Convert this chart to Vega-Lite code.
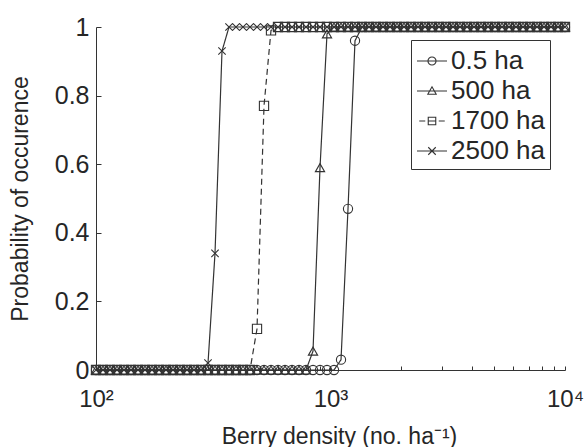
{
"$schema": "https://vega.github.io/schema/vega-lite/v6.json",
"width": 469, "height": 343,
"autosize": {"type": "none"},
"padding": {"left": 96, "top": 27, "right": 19, "bottom": 77},
"background": "white",
"config": {"view": {"stroke": null}, "font": "Liberation Sans",
 "axis": {"grid": false, "domainColor": "#333", "tickColor": "#333", "labelColor": "#262626", "titleColor": "#262626", "labelFont": "Liberation Sans", "titleFont": "Liberation Sans", "titleFontWeight": "normal", "domainWidth": 1, "tickWidth": 1}},
"data": {"values": [
{"s":"0.5 ha","x":100,"p":0},{"s":"0.5 ha","x":107.12,"p":0},{"s":"0.5 ha","x":114.74,"p":0},{"s":"0.5 ha","x":122.9,"p":0},{"s":"0.5 ha","x":131.65,"p":0},{"s":"0.5 ha","x":141.02,"p":0},{"s":"0.5 ha","x":151.05,"p":0},{"s":"0.5 ha","x":161.8,"p":0},{"s":"0.5 ha","x":173.31,"p":0},{"s":"0.5 ha","x":185.64,"p":0},
{"s":"0.5 ha","x":198.85,"p":0},{"s":"0.5 ha","x":213,"p":0},{"s":"0.5 ha","x":228.15,"p":0},{"s":"0.5 ha","x":244.39,"p":0},{"s":"0.5 ha","x":261.78,"p":0},{"s":"0.5 ha","x":280.41,"p":0},{"s":"0.5 ha","x":300.36,"p":0},{"s":"0.5 ha","x":321.73,"p":0},{"s":"0.5 ha","x":344.62,"p":0},{"s":"0.5 ha","x":369.14,"p":0},
{"s":"0.5 ha","x":395.41,"p":0},{"s":"0.5 ha","x":423.54,"p":0},{"s":"0.5 ha","x":453.68,"p":0},{"s":"0.5 ha","x":485.96,"p":0},{"s":"0.5 ha","x":520.54,"p":0},{"s":"0.5 ha","x":557.58,"p":0},{"s":"0.5 ha","x":597.26,"p":0},{"s":"0.5 ha","x":639.75,"p":0},{"s":"0.5 ha","x":685.27,"p":0},{"s":"0.5 ha","x":734.03,"p":0},
{"s":"0.5 ha","x":786.26,"p":0},{"s":"0.5 ha","x":842.2,"p":0},{"s":"0.5 ha","x":902.13,"p":0},{"s":"0.5 ha","x":966.32,"p":0},{"s":"0.5 ha","x":1035.1,"p":0},{"s":"0.5 ha","x":1108.7,"p":0.03},{"s":"0.5 ha","x":1187.6,"p":0.47},{"s":"0.5 ha","x":1272.1,"p":0.96},{"s":"0.5 ha","x":1362.6,"p":1},{"s":"0.5 ha","x":1459.6,"p":1},
{"s":"0.5 ha","x":1563.4,"p":1},{"s":"0.5 ha","x":1674.7,"p":1},{"s":"0.5 ha","x":1793.9,"p":1},{"s":"0.5 ha","x":1921.5,"p":1},{"s":"0.5 ha","x":2058.2,"p":1},{"s":"0.5 ha","x":2204.7,"p":1},{"s":"0.5 ha","x":2361.6,"p":1},{"s":"0.5 ha","x":2529.6,"p":1},{"s":"0.5 ha","x":2709.6,"p":1},{"s":"0.5 ha","x":2902.4,"p":1},
{"s":"0.5 ha","x":3109,"p":1},{"s":"0.5 ha","x":3330.2,"p":1},{"s":"0.5 ha","x":3567.2,"p":1},{"s":"0.5 ha","x":3821,"p":1},{"s":"0.5 ha","x":4092.9,"p":1},{"s":"0.5 ha","x":4384.1,"p":1},{"s":"0.5 ha","x":4696.1,"p":1},{"s":"0.5 ha","x":5030.2,"p":1},{"s":"0.5 ha","x":5388.1,"p":1},{"s":"0.5 ha","x":5771.5,"p":1},
{"s":"0.5 ha","x":6182.2,"p":1},{"s":"0.5 ha","x":6622.1,"p":1},{"s":"0.5 ha","x":7093.3,"p":1},{"s":"0.5 ha","x":7598,"p":1},{"s":"0.5 ha","x":8138.6,"p":1},{"s":"0.5 ha","x":8717.7,"p":1},{"s":"0.5 ha","x":9338,"p":1},{"s":"0.5 ha","x":10000,"p":1},

{"s":"500 ha","x":100,"p":0},{"s":"500 ha","x":107.12,"p":0},{"s":"500 ha","x":114.74,"p":0},{"s":"500 ha","x":122.9,"p":0},{"s":"500 ha","x":131.65,"p":0},{"s":"500 ha","x":141.02,"p":0},{"s":"500 ha","x":151.05,"p":0},{"s":"500 ha","x":161.8,"p":0},{"s":"500 ha","x":173.31,"p":0},{"s":"500 ha","x":185.64,"p":0},
{"s":"500 ha","x":198.85,"p":0},{"s":"500 ha","x":213,"p":0},{"s":"500 ha","x":228.15,"p":0},{"s":"500 ha","x":244.39,"p":0},{"s":"500 ha","x":261.78,"p":0},{"s":"500 ha","x":280.41,"p":0},{"s":"500 ha","x":300.36,"p":0},{"s":"500 ha","x":321.73,"p":0},{"s":"500 ha","x":344.62,"p":0},{"s":"500 ha","x":369.14,"p":0},
{"s":"500 ha","x":395.41,"p":0},{"s":"500 ha","x":423.54,"p":0},{"s":"500 ha","x":453.68,"p":0},{"s":"500 ha","x":485.96,"p":0},{"s":"500 ha","x":520.54,"p":0},{"s":"500 ha","x":557.58,"p":0},{"s":"500 ha","x":597.26,"p":0},{"s":"500 ha","x":639.75,"p":0},{"s":"500 ha","x":685.27,"p":0},{"s":"500 ha","x":734.03,"p":0},
{"s":"500 ha","x":786.26,"p":0},{"s":"500 ha","x":842.2,"p":0.055},{"s":"500 ha","x":902.13,"p":0.59},{"s":"500 ha","x":966.32,"p":0.98},{"s":"500 ha","x":1035.1,"p":1},{"s":"500 ha","x":1108.7,"p":1},{"s":"500 ha","x":1187.6,"p":1},{"s":"500 ha","x":1272.1,"p":1},{"s":"500 ha","x":1362.6,"p":1},{"s":"500 ha","x":1459.6,"p":1},
{"s":"500 ha","x":1563.4,"p":1},{"s":"500 ha","x":1674.7,"p":1},{"s":"500 ha","x":1793.9,"p":1},{"s":"500 ha","x":1921.5,"p":1},{"s":"500 ha","x":2058.2,"p":1},{"s":"500 ha","x":2204.7,"p":1},{"s":"500 ha","x":2361.6,"p":1},{"s":"500 ha","x":2529.6,"p":1},{"s":"500 ha","x":2709.6,"p":1},{"s":"500 ha","x":2902.4,"p":1},
{"s":"500 ha","x":3109,"p":1},{"s":"500 ha","x":3330.2,"p":1},{"s":"500 ha","x":3567.2,"p":1},{"s":"500 ha","x":3821,"p":1},{"s":"500 ha","x":4092.9,"p":1},{"s":"500 ha","x":4384.1,"p":1},{"s":"500 ha","x":4696.1,"p":1},{"s":"500 ha","x":5030.2,"p":1},{"s":"500 ha","x":5388.1,"p":1},{"s":"500 ha","x":5771.5,"p":1},
{"s":"500 ha","x":6182.2,"p":1},{"s":"500 ha","x":6622.1,"p":1},{"s":"500 ha","x":7093.3,"p":1},{"s":"500 ha","x":7598,"p":1},{"s":"500 ha","x":8138.6,"p":1},{"s":"500 ha","x":8717.7,"p":1},{"s":"500 ha","x":9338,"p":1},{"s":"500 ha","x":10000,"p":1},

{"s":"1700 ha","x":100,"p":0},{"s":"1700 ha","x":107.12,"p":0},{"s":"1700 ha","x":114.74,"p":0},{"s":"1700 ha","x":122.9,"p":0},{"s":"1700 ha","x":131.65,"p":0},{"s":"1700 ha","x":141.02,"p":0},{"s":"1700 ha","x":151.05,"p":0},{"s":"1700 ha","x":161.8,"p":0},{"s":"1700 ha","x":173.31,"p":0},{"s":"1700 ha","x":185.64,"p":0},
{"s":"1700 ha","x":198.85,"p":0},{"s":"1700 ha","x":213,"p":0},{"s":"1700 ha","x":228.15,"p":0},{"s":"1700 ha","x":244.39,"p":0},{"s":"1700 ha","x":261.78,"p":0},{"s":"1700 ha","x":280.41,"p":0},{"s":"1700 ha","x":300.36,"p":0},{"s":"1700 ha","x":321.73,"p":0},{"s":"1700 ha","x":344.62,"p":0},{"s":"1700 ha","x":369.14,"p":0},
{"s":"1700 ha","x":395.41,"p":0},{"s":"1700 ha","x":423.54,"p":0},{"s":"1700 ha","x":453.68,"p":0},{"s":"1700 ha","x":485.96,"p":0.12},{"s":"1700 ha","x":520.54,"p":0.77},{"s":"1700 ha","x":557.58,"p":0.99},{"s":"1700 ha","x":597.26,"p":1},{"s":"1700 ha","x":639.75,"p":1},{"s":"1700 ha","x":685.27,"p":1},{"s":"1700 ha","x":734.03,"p":1},
{"s":"1700 ha","x":786.26,"p":1},{"s":"1700 ha","x":842.2,"p":1},{"s":"1700 ha","x":902.13,"p":1},{"s":"1700 ha","x":966.32,"p":1},{"s":"1700 ha","x":1035.1,"p":1},{"s":"1700 ha","x":1108.7,"p":1},{"s":"1700 ha","x":1187.6,"p":1},{"s":"1700 ha","x":1272.1,"p":1},{"s":"1700 ha","x":1362.6,"p":1},{"s":"1700 ha","x":1459.6,"p":1},
{"s":"1700 ha","x":1563.4,"p":1},{"s":"1700 ha","x":1674.7,"p":1},{"s":"1700 ha","x":1793.9,"p":1},{"s":"1700 ha","x":1921.5,"p":1},{"s":"1700 ha","x":2058.2,"p":1},{"s":"1700 ha","x":2204.7,"p":1},{"s":"1700 ha","x":2361.6,"p":1},{"s":"1700 ha","x":2529.6,"p":1},{"s":"1700 ha","x":2709.6,"p":1},{"s":"1700 ha","x":2902.4,"p":1},
{"s":"1700 ha","x":3109,"p":1},{"s":"1700 ha","x":3330.2,"p":1},{"s":"1700 ha","x":3567.2,"p":1},{"s":"1700 ha","x":3821,"p":1},{"s":"1700 ha","x":4092.9,"p":1},{"s":"1700 ha","x":4384.1,"p":1},{"s":"1700 ha","x":4696.1,"p":1},{"s":"1700 ha","x":5030.2,"p":1},{"s":"1700 ha","x":5388.1,"p":1},{"s":"1700 ha","x":5771.5,"p":1},
{"s":"1700 ha","x":6182.2,"p":1},{"s":"1700 ha","x":6622.1,"p":1},{"s":"1700 ha","x":7093.3,"p":1},{"s":"1700 ha","x":7598,"p":1},{"s":"1700 ha","x":8138.6,"p":1},{"s":"1700 ha","x":8717.7,"p":1},{"s":"1700 ha","x":9338,"p":1},{"s":"1700 ha","x":10000,"p":1},

{"s":"2500 ha","x":100,"p":0},{"s":"2500 ha","x":107.12,"p":0},{"s":"2500 ha","x":114.74,"p":0},{"s":"2500 ha","x":122.9,"p":0},{"s":"2500 ha","x":131.65,"p":0},{"s":"2500 ha","x":141.02,"p":0},{"s":"2500 ha","x":151.05,"p":0},{"s":"2500 ha","x":161.8,"p":0},{"s":"2500 ha","x":173.31,"p":0},{"s":"2500 ha","x":185.64,"p":0},
{"s":"2500 ha","x":198.85,"p":0},{"s":"2500 ha","x":213,"p":0},{"s":"2500 ha","x":228.15,"p":0},{"s":"2500 ha","x":244.39,"p":0},{"s":"2500 ha","x":261.78,"p":0},{"s":"2500 ha","x":280.41,"p":0},{"s":"2500 ha","x":300.36,"p":0.02},{"s":"2500 ha","x":321.73,"p":0.34},{"s":"2500 ha","x":344.62,"p":0.93},{"s":"2500 ha","x":369.14,"p":1},
{"s":"2500 ha","x":395.41,"p":1},{"s":"2500 ha","x":423.54,"p":1},{"s":"2500 ha","x":453.68,"p":1},{"s":"2500 ha","x":485.96,"p":1},{"s":"2500 ha","x":520.54,"p":1},{"s":"2500 ha","x":557.58,"p":1},{"s":"2500 ha","x":597.26,"p":1},{"s":"2500 ha","x":639.75,"p":1},{"s":"2500 ha","x":685.27,"p":1},{"s":"2500 ha","x":734.03,"p":1},
{"s":"2500 ha","x":786.26,"p":1},{"s":"2500 ha","x":842.2,"p":1},{"s":"2500 ha","x":902.13,"p":1},{"s":"2500 ha","x":966.32,"p":1},{"s":"2500 ha","x":1035.1,"p":1},{"s":"2500 ha","x":1108.7,"p":1},{"s":"2500 ha","x":1187.6,"p":1},{"s":"2500 ha","x":1272.1,"p":1},{"s":"2500 ha","x":1362.6,"p":1},{"s":"2500 ha","x":1459.6,"p":1},
{"s":"2500 ha","x":1563.4,"p":1},{"s":"2500 ha","x":1674.7,"p":1},{"s":"2500 ha","x":1793.9,"p":1},{"s":"2500 ha","x":1921.5,"p":1},{"s":"2500 ha","x":2058.2,"p":1},{"s":"2500 ha","x":2204.7,"p":1},{"s":"2500 ha","x":2361.6,"p":1},{"s":"2500 ha","x":2529.6,"p":1},{"s":"2500 ha","x":2709.6,"p":1},{"s":"2500 ha","x":2902.4,"p":1},
{"s":"2500 ha","x":3109,"p":1},{"s":"2500 ha","x":3330.2,"p":1},{"s":"2500 ha","x":3567.2,"p":1},{"s":"2500 ha","x":3821,"p":1},{"s":"2500 ha","x":4092.9,"p":1},{"s":"2500 ha","x":4384.1,"p":1},{"s":"2500 ha","x":4696.1,"p":1},{"s":"2500 ha","x":5030.2,"p":1},{"s":"2500 ha","x":5388.1,"p":1},{"s":"2500 ha","x":5771.5,"p":1},
{"s":"2500 ha","x":6182.2,"p":1},{"s":"2500 ha","x":6622.1,"p":1},{"s":"2500 ha","x":7093.3,"p":1},{"s":"2500 ha","x":7598,"p":1},{"s":"2500 ha","x":8138.6,"p":1},{"s":"2500 ha","x":8717.7,"p":1},{"s":"2500 ha","x":9338,"p":1},{"s":"2500 ha","x":10000,"p":1}
]},
"encoding": {
 "x": {"field": "x", "type": "quantitative", "scale": {"type": "log", "domain": [100, 10000], "nice": false},
  "axis": {"values": [100,200,300,400,500,600,700,800,900,1000,2000,3000,4000,5000,6000,7000,8000,9000,10000],
   "labelExpr": "datum.value == 100 ? '10²' : datum.value == 1000 ? '10³' : datum.value == 10000 ? '10⁴' : ''",
   "labelFontSize": 24, "tickSize": -4, "labelPadding": 21, "labelFlush": false, "labelOverlap": false, "labelBound": false,
   "title": "Berry density (no. ha⁻¹)", "titleFontSize": 23, "titleX": 243, "titleY": 73, "titleBaseline": "alphabetic", "titleAlign": "center"}},
 "y": {"field": "p", "type": "quantitative", "scale": {"domain": [0, 1], "nice": false},
  "axis": {"values": [0,0.2,0.4,0.6,0.8,1], "format": ".1~f", "labelFontSize": 25, "tickSize": -5, "labelPadding": 12, "labelFlush": false, "labelOverlap": false, "labelBaseline": "middle",
   "title": "Probability of occurence", "titleFontSize": 23, "titleX": -64, "titleY": 171.5, "titleAngle": 270, "titleBaseline": "bottom", "titleAlign": "center"}}
},
"layer": [
 {"mark": {"type": "line", "color": "#333", "strokeWidth": 1.2},
  "encoding": {"strokeDash": {"field": "s", "type": "nominal", "scale": {"domain": ["0.5 ha","500 ha","1700 ha","2500 ha"], "range": [[1,0],[1,0],[6,4],[1,0]]}, "legend": null}}},
 {"mark": {"type": "point", "filled": false, "color": "#333", "size": 85, "strokeWidth": 1.1, "opacity": 1},
  "encoding": {"shape": {"field": "s", "type": "nominal", "scale": {"domain": ["0.5 ha","500 ha","1700 ha","2500 ha"], "range": ["circle", "triangle-up", "square", "M-0.8,-0.8L0.8,0.8M-0.8,0.8L0.8,-0.8"]}, "legend": null}}},
 {"mark": {"type": "point", "filled": false, "color": "#333", "opacity": 0},
  "encoding": {"shape": {"field": "s", "type": "nominal",
   "scale": {"domain": ["0.5 ha","500 ha","1700 ha","2500 ha"], "range": [
     "M-1,0H1M-0.27,0A0.27,0.27 0 1,1 0.27,0A0.27,0.27 0 1,1 -0.27,0",
     "M-1,0H1M-0.28,0.22L0,-0.28L0.28,0.22Z",
     "M-0.85,0H-0.45M-0.25,0H0.25M0.45,0H0.85M-0.25,-0.25H0.25V0.25H-0.25Z",
     "M-1,0H1M-0.25,-0.25L0.25,0.25M-0.25,0.25L0.25,-0.25"]},
   "legend": {"title": null, "orient": "none", "legendX": 315, "legendY": 13, "strokeColor": "#333", "fillColor": "white", "padding": 5,
     "symbolSize": 900, "symbolStrokeWidth": 1.1, "symbolStrokeColor": "#333", "symbolFillColor": "transparent", "symbolOpacity": 1,
     "labelFontSize": 26, "labelFont": "Liberation Sans", "labelColor": "#262626", "labelOffset": 3, "rowPadding": 1}}}}
],
"resolve": {"scale": {"shape": "independent"}, "legend": {"shape": "independent"}}
}
